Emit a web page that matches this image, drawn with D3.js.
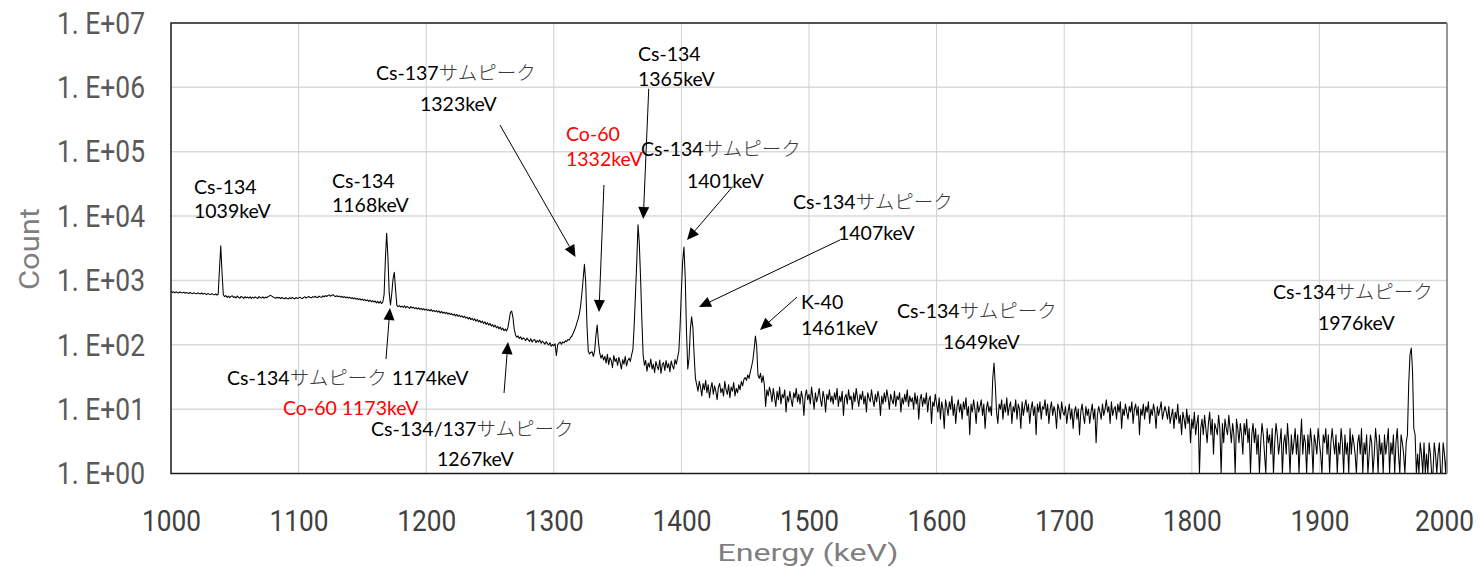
<!DOCTYPE html>
<html>
<head>
<meta charset="utf-8">
<script src="https://cdn.jsdelivr.net/npm/d3@7"></script>
<style>
  html, body { margin: 0; padding: 0; background: #fff; }
  svg { display: block; }
</style>
</head>
<body>
<svg id="chart" width="1482" height="567"></svg>
<script>
// ---- gamma spectrum: counts per 1 keV channel, 1000 keV .. 2000 keV ----
const channelStart = 1000;   // keV of the first channel
const channelWidth = 1;      // keV per channel
const counts = [
  672, 650, 668, 641, 663, 655, 636, 661, 647, 640,   // 1000
  657, 633, 649, 637, 626, 650, 631, 624, 645, 629,
  621, 641, 626, 617, 638, 612, 630, 616, 607, 628,
  612, 603, 624, 607, 598, 616, 594, 615, 1500, 3440,
  1300, 600, 560, 582, 546, 571, 540, 565, 578, 543,
  561, 536, 570, 544, 530, 566, 548, 525, 557, 538,   // 1050
  552, 530, 558, 524, 549, 532, 555, 536, 526, 560,
  543, 532, 556, 528, 551, 538, 560, 574, 586, 570,
  552, 540, 527, 548, 533, 544, 521, 546, 529, 519,
  541, 525, 516, 540, 522, 546, 528, 517, 542, 526,
  535, 549, 530, 524, 545, 556, 533, 550, 564, 542,   // 1100
  536, 560, 545, 567, 548, 541, 571, 555, 546, 577,
  558, 580, 563, 586, 598, 568, 590, 601, 574, 562,
  579, 556, 572, 549, 565, 543, 560, 536, 553, 531,
  547, 524, 540, 516, 535, 510, 526, 503, 520, 496,
  513, 489, 505, 482, 499, 473, 493, 466, 486, 462,   // 1150
  479, 448, 472, 441, 476, 436, 462, 600, 2100, 5400,
  2300, 640, 415, 620, 1050, 1340, 720, 410, 392, 405,
  386, 399, 380, 404, 375, 395, 381, 368, 392, 374,
  383, 365, 379, 359, 375, 355, 369, 350, 364, 346,
  358, 341, 352, 335, 354, 330, 343, 327, 340, 321,   // 1200
  336, 313, 330, 309, 322, 305, 319, 298, 312, 295,
  306, 288, 299, 281, 296, 275, 290, 271, 282, 265,
  278, 259, 269, 251, 266, 246, 258, 240, 253, 233,
  247, 227, 239, 221, 233, 214, 228, 207, 221, 202,
  215, 195, 207, 189, 202, 183, 194, 177, 189, 171,   // 1250
  182, 165, 176, 164, 185, 240, 320, 333, 265, 175,
  142, 131, 137, 125, 133, 121, 128, 124, 116, 127,
  119, 113, 124, 110, 118, 121, 108, 116, 111, 119,
  106, 114, 109, 102, 112, 104, 99, 108, 95, 101,
  97, 104, 68, 99, 106, 110, 102, 111, 107, 116,      // 1300
  112, 121, 118, 128, 135, 148, 165, 185, 215, 250,
  300, 400, 620, 1050, 1780, 950, 200, 80, 72, 76,
  78, 66, 80, 140, 203, 110, 74, 62, 70, 58,
  66, 52, 71, 49, 63, 57, 44, 68, 55, 61,
  48, 64, 53, 42, 59, 50, 66, 47, 57, 62,             // 1350
  55, 70, 85, 200, 600, 1900, 7300, 3800, 1100, 250,
  70, 48, 57, 39, 52, 45, 60, 42, 50, 37,
  55, 46, 41, 58, 36, 49, 53, 40, 57, 44,
  51, 38, 56, 47, 42, 59, 50, 63, 80, 200,
  700, 2000, 3300, 1100, 160, 42, 62, 170, 272, 185,  // 1400
  68, 30, 24, 19, 27, 22, 16, 25, 20, 28,
  18, 24, 15, 21, 26, 17, 23, 19, 14, 22,
  25, 18, 21, 16, 27, 20, 17, 24, 15, 22,
  19, 26, 16, 21, 18, 24, 20, 27, 23, 29,
  31, 28, 34, 30, 38, 46, 58, 85, 137, 95,            // 1450
  34, 30, 36, 26, 33, 24, 11, 20, 16, 22,
  18, 13, 21, 15, 11, 19, 14, 22, 12, 17,
  15, 20, 9, 16, 13, 19, 14, 11, 18, 15,
  21, 13, 17, 12, 19, 15, 8, 16, 20, 14,
  17, 12, 22, 15, 10, 18, 13, 16, 21, 14,             // 1500
  11, 19, 15, 9, 17, 14, 20, 13, 16, 12,
  18, 14, 21, 11, 16, 13, 19, 8, 15, 17,
  12, 20, 14, 16, 10, 18, 13, 21, 15, 11,
  17, 14, 19, 12, 16, 9, 18, 15, 13, 20,
  14, 11, 17, 13, 19, 15, 8, 16, 12, 18,              // 1550
  13, 20, 15, 10, 17, 14, 12, 19, 11, 16,
  14, 18, 9, 15, 12, 17, 13, 20, 11, 16,
  13, 15, 10, 18, 12, 16, 7, 14, 17, 11,
  15, 12, 18, 9, 14, 16, 6, 13, 11, 17,
  12, 9, 15, 7, 13, 10, 5, 14, 11, 8,                 // 1600
  13, 10, 16, 8, 12, 6, 11, 14, 9, 12,
  7, 13, 10, 15, 8, 11, 4, 12, 9, 14,
  10, 6, 13, 9, 11, 14, 8, 12, 5, 10,
  13, 9, 11, 8, 30, 52, 24, 9, 6, 12,
  10, 14, 7, 12, 9, 15, 8, 11, 13, 6,                 // 1650
  11, 9, 14, 7, 12, 10, 5, 13, 8, 11,
  14, 9, 12, 6, 10, 13, 8, 11, 4, 12,
  9, 13, 7, 11, 10, 14, 8, 12, 6, 10,
  13, 8, 11, 9, 5, 12, 10, 7, 13, 9,
  8, 11, 6, 9, 12, 7, 10, 5, 9, 11,                   // 1700
  7, 10, 4, 9, 12, 8, 6, 11, 8, 10,
  6, 9, 12, 7, 10, 3, 8, 11, 9, 7,
  12, 8, 10, 14, 9, 11, 6, 13, 8, 10,
  11, 7, 12, 9, 13, 5, 10, 8, 12, 9,
  7, 11, 9, 13, 6, 10, 12, 8, 11, 4,                  // 1750
  10, 8, 12, 7, 11, 9, 13, 6, 10, 8,
  12, 9, 5, 11, 8, 10, 13, 7, 9, 11,
  9, 7, 11, 6, 8, 10, 5, 9, 7, 12,
  6, 8, 4, 9, 7, 5, 10, 6, 8, 3,
  7, 5, 9, 4, 6, 8, 0, 5, 7, 4,                       // 1800
  8, 5, 3, 6, 9, 4, 7, 2, 6, 5,
  4, 8, 5, 0, 6, 3, 7, 5, 4, 8,
  5, 3, 6, 4, 0, 7, 5, 3, 6, 4,
  2, 6, 4, 7, 3, 5, 0, 4, 6, 3,
  5, 2, 4, 0, 3, 6, 4, 2, 0, 5,                       // 1850
  3, 4, 2, 5, 0, 3, 6, 4, 2, 3,
  5, 0, 3, 4, 2, 6, 3, 0, 4, 2,
  3, 5, 2, 4, 0, 3, 7, 2, 4, 3,
  0, 4, 2, 5, 3, 0, 4, 3, 2, 5,
  3, 2, 0, 4, 3, 5, 2, 4, 0, 3,                       // 1900
  5, 3, 2, 4, 0, 3, 2, 5, 3, 0,
  4, 2, 3, 0, 5, 2, 4, 3, 2, 0,
  3, 4, 2, 5, 0, 3, 2, 4, 0, 2,
  4, 3, 0, 2, 5, 3, 0, 4, 2, 3,
  0, 4, 2, 3, 5, 0, 3, 2, 4, 0,                       // 1950
  3, 5, 2, 0, 4, 3, 2, 0, 3, 4,
  25, 70, 89, 38, 5, 4, 0, 2, 0, 3,
  2, 0, 3, 1, 2, 0, 3, 2, 0, 1,
  3, 2, 0, 2, 3, 0, 1, 3, 2, 0,
  3                                                   // 2000
];

// ---- axes ----
const energyTicks = [1000, 1100, 1200, 1300, 1400, 1500, 1600, 1700, 1800, 1900, 2000];
const countTicks = [1, 10, 100, 1e3, 1e4, 1e5, 1e6, 1e7];
const countTickLabels = ["1. E+00", "1. E+01", "1. E+02", "1. E+03", "1. E+04", "1. E+05", "1. E+06", "1. E+07"];
const xTitle = "Energy (keV)";
const yTitle = "Count";

// ---- peak annotations: text lines and arrow (from / to, in keV and counts) ----
const peakNotes = [
  { lines: ["Cs-134", "1039keV"] },
  { lines: ["Cs-134", "1168keV"] },
  { lines: ["Cs-137サムピーク", "1323keV"], arrow: [[1257.8, 2.6e5], [1317.0, 2310]] },
  { lines: ["Co-60", "1332keV"], red: true, arrow: [[1339.3, 3.04e4], [1335.4, 323]] },
  { lines: ["Cs-134", "1365keV"], arrow: [[1374.4, 9.5e5], [1370.1, 9000]] },
  { lines: ["Cs-134サムピーク", "1401keV"], arrow: [[1440.4, 2.9e4], [1404.4, 4250]] },
  { lines: ["Cs-134サムピーク", "1407keV"], arrow: [[1524.3, 4250], [1413.8, 386]] },
  { lines: ["K-40", "1461keV"], arrow: [[1490.6, 552], [1461.6, 170]] },
  { lines: ["Cs-134サムピーク", "1649keV"] },
  { lines: ["Cs-134サムピーク", "1976keV"] },
  { lines: ["Cs-134サムピーク 1174keV"], arrow: [[1168.5, 60], [1171.6, 373]] },
  { lines: ["Co-60 1173keV"], red: true },
  { lines: ["Cs-134/137サムピーク", "1267keV"], arrow: [[1261.0, 17.8], [1264.1, 110]] }
];

// text placement for each note: left edge and centre of each line (px)
const noteLayout = [
  [[194, 187], [194, 211]],
  [[332, 181], [332, 205]],
  [[376, 73], [420, 104]],
  [[566, 134], [566, 159]],
  [[638, 54], [638, 79]],
  [[641, 149], [687, 181]],
  [[793, 202], [838, 233]],
  [[801, 302], [801, 328]],
  [[897, 311], [943, 342]],
  [[1273, 292], [1318, 323]],
  [[227, 378]],
  [[283, 408]],
  [[371, 429], [437, 459]]
];

// ---- drawing ----
const W = 1482, H = 567;
const plot = { left: 171, right: 1447, top: 23, bottom: 473.5 };
const svg = d3.select("#chart");
svg.append("rect").attr("width", W).attr("height", H).attr("fill", "#fff");

const x = d3.scaleLinear().domain([1000, 2000]).range([plot.left, plot.right]);
const y = d3.scaleLog().domain([1, 1e7]).range([plot.bottom, plot.top]).clamp(true);

const NOTE_FONT = "Lato, 'Noto Sans', sans-serif";
const KANA_FONT = "'Noto Sans CJK JP', sans-serif";
const AXIS_FONT = "Roboto, 'Noto Sans', sans-serif";

// grid
const grid = svg.append("g");
grid.selectAll("line.h").data(countTicks.slice(1, -1)).join("line")
  .attr("x1", plot.left).attr("x2", plot.right)
  .attr("y1", d => y(d)).attr("y2", d => y(d))
  .attr("stroke", "#d9d9d9").attr("stroke-width", 1.5);
grid.selectAll("line.v").data(energyTicks.slice(1, -1)).join("line")
  .attr("y1", plot.top).attr("y2", plot.bottom)
  .attr("x1", d => x(d)).attr("x2", d => x(d))
  .attr("stroke", "#d0d0d0").attr("stroke-width", 1);

// spectrum
svg.append("defs").append("clipPath").attr("id", "plotClip")
  .append("rect").attr("x", plot.left).attr("y", plot.top)
  .attr("width", plot.right - plot.left).attr("height", plot.bottom - plot.top);

const line = d3.line()
  .x((d, i) => x(channelStart + i * channelWidth))
  .y(d => y(d));
svg.append("path").datum(counts)
  .attr("clip-path", "url(#plotClip)")
  .attr("d", line)
  .attr("fill", "none").attr("stroke", "#000").attr("stroke-width", 1.05)
  .attr("stroke-linejoin", "round");

// frame
svg.append("path")
  .attr("d", `M${plot.right},${plot.top}H${plot.left}V${plot.bottom}H${plot.right}`)
  .attr("fill", "none").attr("stroke", "#1a1a1a").attr("stroke-width", 1.5);
svg.append("line")
  .attr("x1", plot.right).attr("x2", plot.right).attr("y1", plot.top).attr("y2", plot.bottom)
  .attr("stroke", "#8c8c8c").attr("stroke-width", 1.8);

// y axis
const yAxis = svg.append("g").attr("transform", `translate(${plot.left},0)`)
  .call(d3.axisLeft(y).tickValues(countTicks)
    .tickFormat((d, i) => countTickLabels[i]).tickSize(0).tickPadding(26));
yAxis.select(".domain").remove();
yAxis.selectAll("text")
  .attr("font-family", AXIS_FONT).attr("font-size", 32).attr("fill", "#595959")
  .attr("textLength", 88).attr("lengthAdjust", "spacingAndGlyphs");

// x axis
const xAxis = svg.append("g").attr("transform", `translate(0,${plot.bottom})`)
  .call(d3.axisBottom(x).tickValues(energyTicks).tickFormat(d3.format("d"))
    .tickSize(0).tickPadding(37));
xAxis.select(".domain").remove();
xAxis.selectAll("text")
  .attr("font-family", AXIS_FONT).attr("font-size", 29).attr("fill", "#404040")
  .attr("textLength", 59).attr("lengthAdjust", "spacingAndGlyphs");
// keep the last label inside the right edge of the page
xAxis.selectAll(".tick").filter(d => d === energyTicks[energyTicks.length - 1])
  .select("text").attr("dx", -3);

// axis titles
svg.append("text")
  .attr("x", 808).attr("y", 561).attr("text-anchor", "middle")
  .attr("font-family", AXIS_FONT).attr("font-size", 24.5).attr("fill", "#7f7f7f")
  .attr("textLength", 181).attr("lengthAdjust", "spacingAndGlyphs")
  .text(xTitle);
svg.append("text")
  .attr("transform", "translate(39,249) rotate(-90)").attr("text-anchor", "middle")
  .attr("font-family", AXIS_FONT).attr("font-size", 27).attr("fill", "#7f7f7f")
  .attr("textLength", 82).attr("lengthAdjust", "spacingAndGlyphs")
  .text(yTitle);

// annotations
const notes = svg.append("g").attr("font-family", NOTE_FONT).attr("font-size", 19.5);
const kana = /([\u3040-\u30ff]+)/;

peakNotes.forEach((note, n) => {
  const color = note.red ? "#ff0000" : "#000";
  note.lines.forEach((str, k) => {
    const [lx, ly] = noteLayout[n][k];
    const t = notes.append("text").attr("x", lx).attr("y", ly + 7).attr("fill", color);
    str.split(kana).filter(s => s.length).forEach(part => {
      const ts = t.append("tspan").text(part);
      if (kana.test(part)) {
        ts.attr("font-family", KANA_FONT).attr("fill", "#3a3a3a").attr("font-weight", 300);
      }
    });
  });
  if (note.arrow) {
    const [[e0, c0], [e1, c1]] = note.arrow;
    const x0 = x(e0), y0 = y(c0), x1 = x(e1), y1 = y(c1);
    const len = Math.hypot(x1 - x0, y1 - y0);
    const ux = (x1 - x0) / len, uy = (y1 - y0) / len;
    const headL = 12, headW = 5.5;
    const bx = x1 - ux * headL, by = y1 - uy * headL;
    notes.append("line")
      .attr("x1", x0).attr("y1", y0).attr("x2", bx).attr("y2", by)
      .attr("stroke", "#000").attr("stroke-width", 1);
    notes.append("path")
      .attr("d", `M${x1},${y1}L${bx - uy * headW},${by + ux * headW}L${bx + uy * headW},${by - ux * headW}Z`)
      .attr("fill", "#000");
  }
});
</script>
</body>
</html>
